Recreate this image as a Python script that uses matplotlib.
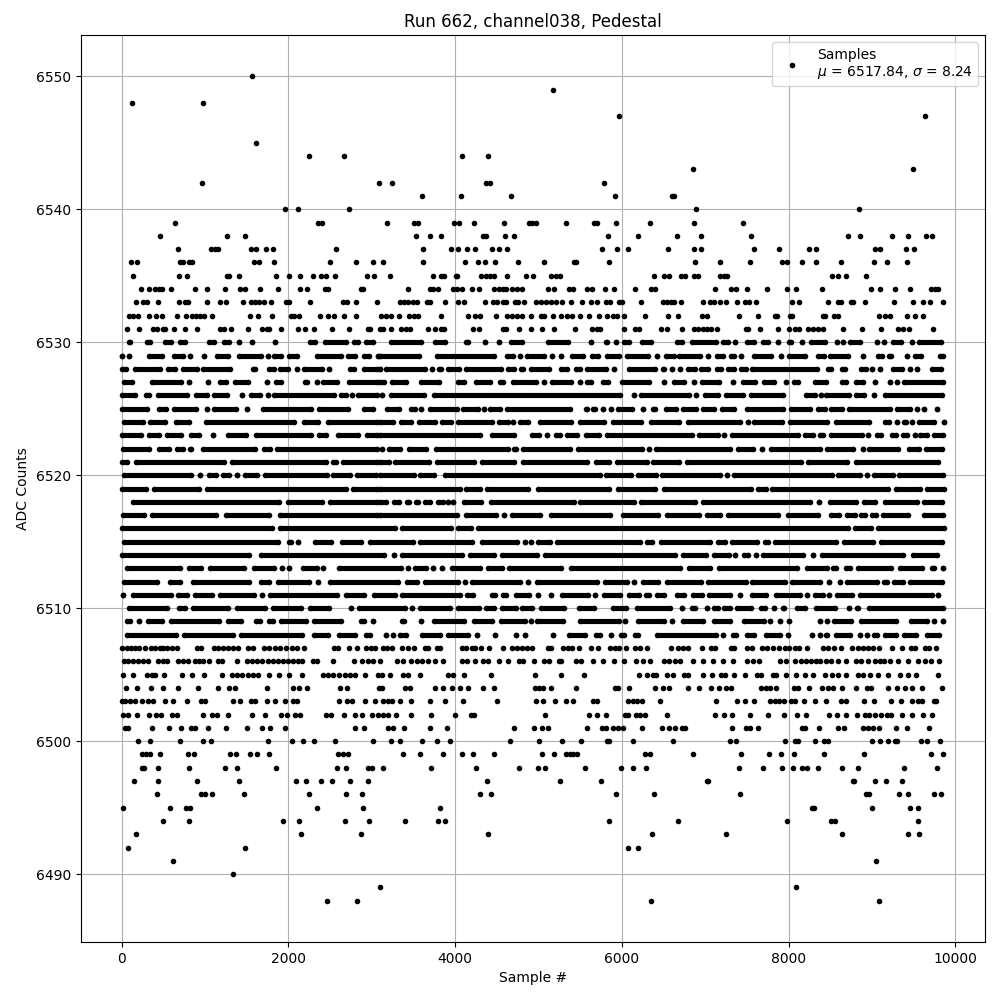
import matplotlib
matplotlib.use('Agg')
import matplotlib.pyplot as plt

title = 'Run 662, channel038, Pedestal'
xlabel = 'Sample #'
ylabel = 'ADC Counts'
legend_label = 'Samples\n$\\mu$ = 6517.84, $\\sigma$ = 8.24'

# tails of the distribution: sample numbers read per ADC level
s6550 = [1568]
s6549 = [5172]
s6548 = [128, 980]
s6547 = [5964, 9636]
s6545 = [1616]
s6544 = [2252, 2672, 4088, 4400]
s6543 = [6852, 9492]
s6542 = [968, 3092, 3248, 4376, 4424, 5784]
s6541 = [3608, 4076, 4676, 5916, 6600, 6624]
s6540 = [1964, 2120, 2732, 6888, 8844]
s6539 = [644, 2356, 2400, 3188, 3508, 3556, 3988, 4048, 4232, 4592, 4884, 4920, 4968, 5328, 5664, 5700, 5928, 6336, 6864, 7452]
s6538 = [464, 1268, 1484, 3536, 3704, 3836, 4340, 4376, 4604, 4712, 5832, 6192, 6660, 6948, 7548, 8712, 8856, 9240, 9432, 9648, 9720]
s6537 = [680, 1076, 1124, 1160, 1556, 1616, 1736, 1820, 2576, 3620, 3956, 4040, 4148, 4244, 4448, 4532, 4628, 5760, 5940, 6072, 6560, 6864, 6948, 7584, 7884, 8244, 8328, 9036, 9096, 9408, 9504]
s6536 = [116, 188, 704, 740, 812, 848, 1592, 1652, 1832, 2504, 2816, 3020, 3140, 3620, 4124, 4280, 4364, 4484, 4760, 5064, 5424, 5448, 5844, 6876, 7176, 7536, 7920, 7980, 8160, 8328, 8628, 9024, 9180, 9420]
s6535 = [140, 692, 788, 1268, 1292, 1412, 1856, 2012, 2144, 2300, 2396, 2456, 2564, 2948, 3032, 3224, 3740, 3836, 3872, 4016, 4028, 4316, 4376, 4424, 4472, 4628, 4856, 4932, 5148, 5212, 5256, 6384, 6504, 6564, 6708, 6756, 6864, 6912, 7176, 7224, 7260, 8520, 8592, 8688, 8928]
s6534 = [236, 332, 404, 452, 488, 596, 884, 1028, 1244, 1424, 1484, 1664, 1880, 2144, 2228, 2444, 2480, 2876, 2900, 3440, 3704, 3740, 3800, 3980, 4028, 4088, 4208, 4292, 4472, 4532, 4580, 4616, 4688, 4748, 4808, 5112, 5184, 5364, 5412, 5580, 5640, 5796, 5904, 6156, 6348, 6396, 7116, 7308, 7368, 7500, 7748, 7980, 8088, 8400, 8988, 9096, 9276, 9456, 9708, 9756, 9792]
s6533 = [176, 260, 308, 440, 692, 764, 800, 1028, 1184, 1256, 1460, 1556, 1604, 1652, 1712, 1796, 1976, 2012, 2264, 2660, 2708, 2816, 3068, 3344, 3392, 3440, 3500, 3548, 3668, 3704, 3884, 4040, 4112, 4364, 4460, 4508, 4580, 4616, 4724, 4760, 4832, 4972, 5032, 5092, 5152, 5212, 5280, 5392, 5520, 5628, 5700, 5808, 5856, 5964, 6000, 6228, 6492, 6540, 6588, 6624, 6708, 6972, 7056, 7104, 7176, 7248, 7380, 7476, 7524, 7608, 8040, 8124, 8472, 8592, 8628, 8748, 8772, 8916, 9264, 9492, 9612, 9696, 9852]
s6532 = [92, 140, 200, 332, 416, 488, 668, 776, 848, 896, 944, 992, 1088, 1544, 1640, 1808, 2036, 2072, 2132, 2384, 2480, 2552, 2672, 2816, 3116, 3176, 3236, 3332, 3452, 3512, 3560, 3836, 4160, 4244, 4304, 4496, 4628, 4688, 4748, 4808, 4912, 5032, 5072, 5172, 5268, 5340, 5400, 5496, 5604, 5724, 5820, 5892, 5940, 6024, 6276, 6552, 6672, 6960, 7020, 7404, 7632, 7836, 7860, 8016, 8040, 8412, 8436, 8544, 8592, 9084, 9156, 9216, 9420, 9516, 9612]
s6531 = [68, 212, 380, 428, 500, 524, 628, 764, 908, 1184, 1232, 1316, 1520, 1688, 1748, 1772, 1916, 2120, 2204, 2312, 2528, 2732, 2960, 2984, 3104, 3140, 3236, 3356, 3416, 3464, 3680, 3764, 3836, 3872, 4220, 4292, 4580, 4616, 4772, 4912, 5040, 5184, 5436, 5640, 5700, 5736, 6024, 6156, 6204, 6468, 6540, 6720, 6864, 6912, 6972, 7020, 7068, 7140, 7488, 7512, 7656, 7872, 8004, 8076, 8124, 8232, 8292, 8352, 8412, 8652, 8880, 9108, 9312, 9372, 9444, 9732]

s6507 = [8, 60, 108, 156, 204, 284, 348, 404, 460, 500, 548, 600, 668, 908, 956, 1108, 1160, 1220, 1280, 1332, 1400, 1520, 1580, 1712, 1772, 1840, 1900, 1968, 2044, 2100, 2192, 2552, 2600, 2732, 2828, 2932, 2988, 3044, 3140, 3188, 3244, 3368, 3440, 3512, 3644, 3680, 3780, 3824, 4084, 4132, 4200, 4244, 4316, 4404, 4580, 4680, 4740, 4800, 4860, 4920, 5112, 5152, 5292, 5352, 5400, 5484, 5628, 5712, 5864, 5916, 5972, 6052, 6156, 6216, 6300, 6588, 6672, 6732, 6792, 6960, 7068, 7116, 7308, 7344, 7500, 7560, 7680, 7740, 7812, 7884, 7956, 8004, 8072, 8124, 8220, 8412, 8472, 8544, 8628, 8760, 8832, 8892, 8952, 9012, 9084, 9240, 9360, 9472, 9520, 9636, 9684, 9768]
s6506 = [32, 80, 140, 200, 260, 320, 440, 500, 548, 680, 740, 800, 884, 932, 980, 1052, 1160, 1208, 1388, 1508, 1568, 1628, 1688, 1760, 1820, 1880, 1940, 2000, 2060, 2120, 2168, 2300, 2348, 2540, 2792, 2888, 2960, 3020, 3100, 3308, 3380, 3476, 3548, 3608, 3680, 3764, 3860, 4088, 4148, 4240, 4340, 4400, 4532, 4640, 4764, 4820, 4952, 5072, 5132, 5244, 5276, 5452, 5512, 5652, 5780, 5912, 6024, 6172, 6252, 6340, 6504, 6572, 6636, 6700, 6852, 6980, 7092, 7212, 7332, 7500, 7572, 7652, 7900, 7972, 8076, 8152, 8212, 8272, 8332, 8372, 8452, 8512, 8592, 8692, 8804, 8872, 8952, 9032, 9092, 9148, 9212, 9312, 9432, 9552, 9632, 9704, 9804]
s6505 = [20, 140, 300, 360, 400, 508, 728, 844, 988, 1208, 1324, 1380, 1440, 1520, 1580, 1640, 1772, 1892, 2012, 2168, 2412, 2480, 2540, 2612, 2680, 2740, 2800, 2924, 3080, 3120, 3224, 3372, 3440, 3580, 3920, 3980, 4112, 4436, 4956, 5268, 5544, 6204, 6300, 6372, 6412, 6540, 6612, 6752, 6792, 6972, 7080, 7192, 7236, 7344, 7476, 7620, 7668, 7812, 7852, 7972, 8084, 8192, 8292, 8436, 8520, 8592, 8692, 8832, 8892, 8972, 9072, 9192, 9332, 9432, 9532, 9792]
s6504 = [56, 188, 356, 500, 680, 920, 1160, 1292, 1360, 1748, 2060, 2128, 2228, 2624, 2708, 3092, 3128, 3404, 3464, 3764, 3860, 3968, 4060, 4160, 4340, 4472, 4964, 5012, 5060, 5148, 5448, 5916, 5952, 6084, 6396, 6492, 6564, 6792, 6924, 7068, 7164, 7252, 7308, 7668, 7732, 7780, 7848, 8064, 8112, 8240, 8400, 8472, 8532, 8640, 8808, 8940, 8988, 9192, 9300, 9396, 9480, 9600, 9840]
s6503 = [0, 44, 100, 160, 240, 320, 380, 520, 620, 788, 948, 1004, 1340, 1420, 1556, 1604, 1748, 1840, 1964, 2060, 2108, 2612, 2708, 2768, 2924, 3044, 3140, 3200, 3248, 3344, 3472, 3700, 3884, 4100, 4508, 4968, 5052, 5196, 5328, 5412, 5652, 5700, 6072, 6132, 6180, 6240, 6456, 7128, 7380, 7476, 7584, 7776, 7836, 7884, 7944, 8028, 8076, 8184, 8316, 8448, 8628, 8688, 8904, 9024, 9228, 9348, 9480, 9552, 9600, 9744, 9772]
s6502 = [20, 80, 188, 332, 412, 472, 608, 660, 980, 1088, 1148, 1280, 1568, 1720, 1916, 1988, 2084, 2144, 2456, 2516, 2672, 2804, 2888, 3008, 3080, 3140, 3200, 3296, 3476, 3716, 4004, 4188, 4232, 5076, 5604, 5700, 5808, 6036, 6072, 6168, 6216, 6276, 6540, 7116, 7224, 7320, 7536, 7752, 7944, 8100, 8208, 8484, 8580, 8684, 8820, 8916, 8964, 9036, 9108, 9180, 9228, 9360, 9480, 9612, 9724]
s6501 = [40, 80, 368, 572, 716, 836, 884, 1040, 1256, 1508, 1688, 1784, 1964, 2804, 2912, 3200, 3260, 3392, 3704, 3908, 4712, 4944, 5040, 5112, 5580, 5760, 5812, 5892, 5952, 6012, 6240, 6480, 6564, 6636, 6720, 6756, 7320, 7488, 7536, 7632, 8160, 8196, 8364, 8592, 8664, 8892, 8952, 9012, 9084, 9288, 9420, 9684]
s6500 = [200, 344, 704, 980, 1076, 1760, 2048, 2180, 2312, 2564, 3020, 3236, 3344, 3608, 3788, 3944, 4664, 5004, 5280, 5508, 5820, 5844, 6132, 6612, 7296, 7368, 7956, 8076, 8112, 8316, 8424, 8472, 9000, 9100, 9192, 9276, 9300, 9588, 9660, 9816]
s6499 = [248, 296, 344, 464, 800, 872, 1304, 1376, 1544, 1628, 1772, 2600, 2660, 2720, 3380, 3584, 3860, 4088, 4220, 4472, 5040, 5184, 5328, 5376, 5412, 5460, 6276, 6336, 6852, 7428, 7764, 7908, 8064, 8424, 8904, 9708, 9852]
s6498 = [248, 272, 440, 812, 1244, 1388, 1856, 2588, 2696, 2960, 3008, 3140, 3716, 4256, 4772, 4992, 5076, 5556, 5988, 6132, 6288, 7404, 7692, 7920, 8052, 8160, 8220, 8352, 8640, 8832, 9384, 9780]
s6497 = [152, 440, 908, 1412, 2096, 2216, 2396, 2528, 2744, 2960, 4388, 5256, 5748, 7020, 7036, 8772, 8788, 9036, 9168, 9360]
s6496 = [428, 956, 1004, 1088, 1472, 2252, 2696, 2888, 4304, 4436, 5928, 6384, 7416, 8928, 8964, 9324, 9432, 9744, 9828]
s6495 = [20, 584, 776, 824, 2348, 2900, 3824, 8280, 8304, 9000, 9456, 9552]
s6494 = [500, 812, 1940, 2132, 2684, 2972, 3404, 3800, 3884, 5844, 6672, 7980, 8508, 8556, 9552]
s6493 = [176, 2156, 2876, 4400, 6360, 7248, 8640, 9432, 9564]
s6492 = [80, 1484, 6072, 6192]
s6491 = [620, 9048]
s6490 = [1340]
s6489 = [3104, 8088]
s6488 = [2468, 2828, 6348, 9084]

# core of the distribution: (first, last) sample of each unbroken stretch of
# overlapping dots, read per ADC level
r6530 = [(84,100),(300,340),(516,588),(700,760),(1052,1108),(1224,1288),(1404,1404),(1564,1564),(1844,1844),(2260,2324),(2436,2692),(2784,2840),(2932,3016),(3228,3596),(3756,3876),(4128,4152),(4356,4356),(4532,4532),(4668,4804),(5120,5352),(5632,5632),(5808,5824),(5932,5932),(6024,6084),(6240,6356),(6664,6720),(6840,7128),(7220,7276),(7364,7364),(7500,7584),(7700,7756),(7880,7880),(8000,8024),(8156,8156),(8272,8432),(8576,8576),(8656,8656),(8732,8856),(9056,9056),(9140,9140),(9256,9344),(9476,9476),(9568,9824)]
r6529 = [(0,0),(84,84),(332,488),(632,740),(820,820),(992,992),(1140,1276),(1412,1676),(1760,1760),(1832,1916),(2012,2108),(2340,2628),(2712,2800),(2904,2968),(3072,3072),(3096,3564),(3788,4464),(4628,4696),(4776,4776),(4860,5064),(5168,5168),(5276,5276),(5408,5536),(5640,5712),(5828,5968),(6060,6312),(6424,6424),(6536,6624),(6688,6936),(7040,7040),(7140,7216),(7308,7344),(7436,7436),(7592,7796),(7916,7916),(8000,8192),(8348,8424),(8496,8716),(8888,8888),(9068,9116),(9200,9224),(9424,9424),(9520,9584),(9820,9848)]
r6528 = [(0,56),(156,460),(552,640),(732,900),(972,1300),(1572,1604),(1764,1828),(1900,2000),(2100,2100),(2184,2408),(2492,2492),(2740,2788),(2904,3068),(3096,3096),(3176,3644),(3724,3724),(3808,3832),(3920,4044),(4136,4552),(4640,4704),(4792,4816),(4912,5124),(5268,5344),(5448,5504),(5588,5816),(5908,5908),(6088,6404),(6496,6504),(6600,6600),(6696,6696),(6800,6876),(6948,7040),(7140,7196),(7280,7344),(7432,7488),(7560,8336),(8468,8508),(8640,8676),(8868,8928),(8996,8996),(9092,9092),(9248,9360),(9456,9456),(9536,9536),(9720,9824)]
r6527 = [(32,128),(360,708),(812,812),(1040,1040),(1184,1256),(1356,1520),(1740,1740),(1852,1916),(2196,2228),(2340,2340),(2412,2588),(2724,3068),(3096,3144),(3248,3412),(3596,3812),(4040,4112),(4256,4424),(4536,4576),(4700,4972),(5064,5064),(5160,5392),(5496,5496),(5588,5632),(5780,5832),(6008,6324),(6512,6512),(6628,6752),(6864,6864),(6968,7164),(7332,7332),(7452,7604),(7712,7824),(7964,7964),(8064,8108),(8316,8444),(8640,8688),(8808,8888),(9032,9032),(9216,9216),(9296,9296),(9380,9848)]
r6526 = [(0,156),(292,324),(432,788),(892,1020),(1112,1268),(1448,1448),(1548,1660),(1760,1760),(1832,2548),(2632,2688),(2760,2760),(2832,3068),(3128,3128),(3228,3624),(3748,5984),(6144,6144),(6228,6808),(6896,6896),(7000,7156),(7248,7456),(7556,7936),(8208,8316),(8384,8384),(8448,8724),(8808,8904),(9020,9020),(9160,9836)]
r6525 = [(8,308),(444,528),(632,896),(1020,1020),(1112,1376),(1508,1508),(1692,2268),(2364,2720),(2912,3016),(3188,3324),(3468,3524),(3596,3596),(3696,4024),(4100,4272),(4348,4348),(4420,4544),(4620,5384),(5568,5584),(5656,5684),(5776,5776),(5868,5868),(5952,6124),(6260,6260),(6376,6396),(6528,6648),(6732,6896),(6980,7108),(7200,7344),(7500,7936),(8024,8256),(8352,8432),(8512,8636),(8720,9216),(9300,9456),(9536,9536),(9624,9624),(9776,9776)]
r6524 = [(32,260),(344,516),(648,808),(1008,2068),(2192,2356),(2472,3068),(3096,3256),(3356,3476),(3568,3764),(3848,3952),(4040,4444),(4528,4632),(4696,4696),(4776,4876),(5020,5392),(5496,5792),(5900,6232),(6348,6688),(6792,7424),(7516,7516),(7592,7928),(8012,8464),(8568,8968),(9160,9208),(9296,9296),(9388,9408),(9484,9484),(9560,9744),(9864,9864)]
r6523 = [(8,228),(324,448),(540,708),(832,928),(1100,1100),(1272,1496),(1612,2268),(2364,2448),(2592,2840),(2944,3068),(3096,4304),(4448,4712),(4928,5008),(5100,5100),(5208,5264),(5348,5464),(5576,5724),(5820,6848),(6928,7156),(7232,7232),(7328,8116),(8200,8288),(8380,8408),(8508,8876),(8948,8948),(9060,9104),(9240,9284),(9368,9416),(9512,9512),(9580,9656),(9744,9848)]
r6522 = [(20,328),(444,568),(664,740),(820,836),(972,1596),(1704,1780),(1860,3068),(3124,3124),(3208,3336),(3448,3656),(3768,4632),(4708,4736),(4816,5384),(5476,6244),(6324,6324),(6408,7304),(7392,7576),(7688,7688),(7788,8376),(8460,8768),(8888,8888),(8968,9312),(9440,9560),(9648,9836)]
r6521 = [(8,68),(168,1228),(1320,2448),(2532,2568),(2652,3060),(3096,3208),(3280,3692),(3780,4224),(4328,4704),(4816,5584),(5688,5844),(5948,6304),(6380,6688),(6780,8144),(8232,8696),(8812,9796)]
r6520 = [(32,828),(940,940),(1044,1128),(1220,1288),(1384,1384),(1480,1628),(1724,2460),(2532,2736),(2820,3048),(3096,3504),(3576,3752),(3880,5736),(5816,6112),(6200,6412),(6488,7176),(7268,7268),(7352,8516),(8592,8856),(8944,8944),(9020,9256),(9328,9856)]
r6519 = [(0,296),(384,928),(1020,2688),(2772,3068),(3096,4064),(4136,4296),(4388,4872),(5000,5844),(5960,6396),(6508,7556),(7632,7728),(7800,9196),(9288,9576),(9660,9864)]
r6518 = [(132,1884),(1992,2408),(2500,3068),(3096,3176),(3272,3328),(3420,3452),(3536,3552),(3640,3696),(3800,3856),(3920,3920),(3976,3976),(4112,4312),(4428,5424),(5504,6152),(6228,6884),(6980,8256),(8364,8364),(8492,8808),(8900,9036),(9160,9536),(9620,9844)]
r6517 = [(20,268),(360,1136),(1256,1764),(1896,3068),(3096,4024),(4128,4492),(4592,4592),(4680,5024),(5148,5864),(6020,6432),(6548,6928),(7020,7184),(7272,7876),(7992,8352),(8508,8608),(8700,8796),(8872,8916),(9000,9048),(9132,9436),(9628,9856)]
r6516 = [(8,1804),(1896,3284),(3368,3952),(4040,4192),(4280,8716),(8792,8984),(9072,9864)]
r6515 = [(32,1880),(2004,2028),(2120,2120),(2316,2516),(2640,2876),(2980,3496),(3584,4208),(4328,4744),(4844,4844),(4916,4916),(5000,5136),(5228,6224),(6308,6364),(6468,7056),(7152,7236),(7320,7628),(7720,7756),(7840,8568),(8664,9016),(9108,9836)]
r6514 = [(8,1528),(1676,3152),(3272,3272),(3368,4084),(4180,4464),(4560,4984),(5080,6640),(6732,7016),(7108,7284),(7364,7364),(7464,7520),(7608,7608),(7692,8176),(8296,8296),(8400,9376),(9488,9776)]
r6513 = [(68,700),(804,948),(1056,1468),(1592,1828),(1928,1928),(2004,2004),(2172,2340),(2416,2416),(2604,3352),(3436,3436),(3520,3656),(3736,3736),(3844,3844),(3968,4304),(4400,4564),(4652,5276),(5396,6704),(6812,7056),(7172,8096),(8216,8456),(8528,8564),(8688,8736),(8828,9224),(9336,9596),(9720,9744),(9852,9852)]
r6512 = [(32,428),(580,700),(860,1532),(1676,1768),(1872,2248),(2360,2360),(2504,3312),(3428,3544),(3636,4036),(4120,4120),(4200,4776),(4880,4880),(4988,5704),(5800,6064),(6148,6148),(6256,6436),(6548,6956),(7040,7488),(7568,7956),(8040,8376),(8480,8480),(8616,8616),(8700,9064),(9148,9176),(9264,9376),(9460,9836)]
r6511 = [(20,20),(132,596),(680,780),(884,1088),(1176,1588),(1680,1680),(1780,2588),(2692,2908),(3032,3280),(3368,4056),(4140,4216),(4448,4484),(4580,4616),(4728,4884),(4992,4992),(5148,5148),(5288,5592),(5680,5680),(5788,5984),(6088,6204),(6288,6324),(6428,6504),(6664,6752),(6852,6968),(7048,7296),(7424,7424),(7560,7736),(7852,8136),(8216,8216),(8320,8416),(8484,8484),(8584,8756),(8852,9716),(9788,9788)]
r6510 = [(92,540),(684,756),(852,1280),(1380,1716),(1812,2156),(2260,2492),(2756,2756),(2844,3404),(3484,3484),(3576,3944),(4040,4284),(4368,4464),(4568,4728),(4808,4924),(5028,5304),(5488,5672),(5900,6056),(6188,6584),(6728,6728),(6840,6884),(7020,7028),(7112,7156),(7232,7296),(7380,7556),(7672,7716),(7832,7832),(7940,7948),(8100,8196),(8332,8560),(8720,8720),(8820,8836),(8960,9856)]
r6509 = [(60,100),(212,212),(320,488),(592,1168),(1276,1428),(1612,1660),(1764,1820),(1908,2208),(2312,2628),(2872,2908),(3012,3012),(3368,3384),(3592,3592),(3748,4112),(4228,4444),(4556,4836),(4908,4908),(4988,5296),(5496,5964),(6044,6044),(6200,6504),(6608,6608),(6740,6976),(7108,7296),(7468,7704),(7784,7784),(7896,7896),(8008,8008),(8376,8376),(8456,8456),(8540,8744),(8868,9284),(9468,9656),(9740,9740),(9856,9856)]
r6508 = [(68,656),(752,1332),(1428,2160),(2304,2476),(2604,2800),(2932,2980),(3168,3168),(3256,3256),(3336,3416),(3608,3816),(3912,4152),(4264,4264),(4484,4484),(4732,4732),(4840,4840),(5176,5176),(5368,5560),(5688,5744),(5868,5868),(5988,6024),(6156,6200),(6428,7136),(7220,7220),(7332,7376),(7500,7584),(7728,7904),(7996,7996),(8276,8276),(8372,8372),(8452,8464),(8568,8736),(8852,8852),(8936,8936),(9020,9056),(9152,9284),(9388,9528),(9660,9804)]

point_levels = list(range(6488, 6508)) + list(range(6531, 6551))
run_levels = range(6508, 6531)

x = []
y = []
for level in point_levels:
    samples = globals().get('s%d' % level, [])
    x += samples
    y += [level] * len(samples)

fig, ax = plt.subplots(figsize=(10, 10))
for level in run_levels:
    runs = globals()['r%d' % level]
    for first, last in runs:
        x += [first, last]
        y += [level, level]
    # the long stretches are too dense to tell single samples apart
    ax.hlines([level] * len(runs), [r[0] for r in runs], [r[1] for r in runs],
              color='black', linewidth=3.7, zorder=2)

ax.plot(x, y, '.', color='black', label=legend_label)
ax.set_title(title)
ax.set_xlabel(xlabel)
ax.set_ylabel(ylabel)
ax.grid(True)
ax.legend(loc='upper right')
fig.subplots_adjust(left=0.0805, right=0.985, top=0.965, bottom=0.058)
fig.savefig('out.png', dpi=100)
